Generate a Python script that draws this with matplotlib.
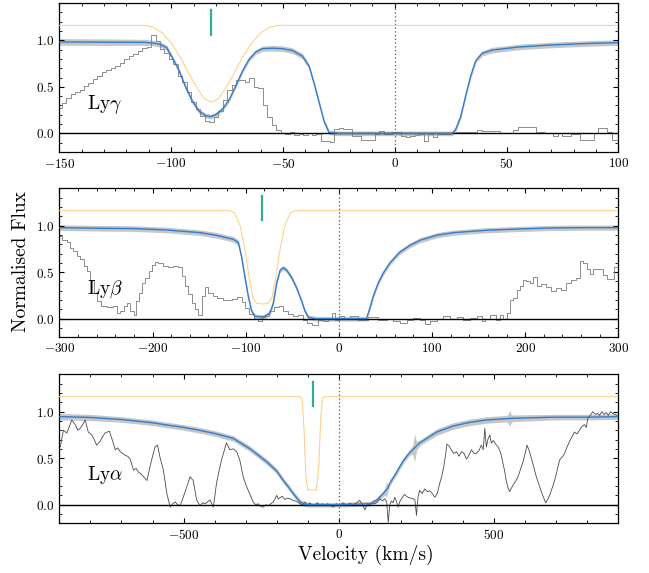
import matplotlib
matplotlib.use("Agg")
import matplotlib.pyplot as plt
from matplotlib.ticker import MultipleLocator

plt.rcParams["font.family"] = "serif"
plt.rcParams["font.serif"] = ["cmr10", "DejaVu Serif"]
plt.rcParams["mathtext.fontset"] = "cm"
plt.rcParams["axes.formatter.use_mathtext"] = True
plt.rcParams["axes.unicode_minus"] = True

# ---------------- Ly gamma ----------------
g_model_x = [-150, -130, -112, -108, -105, -102, -99.4, -96.4, -93.4, -90.5, -87.5, -84.5, -82.3, -80.1,
             -77.1, -74.1, -71.1, -68.1, -65.2, -62.2, -59.2, -54.7, -50.2, -45.8, -41.3, -38.3, -36.1,
             -33.8, -31.6, -29.4, -25, 0, 25.7, 27.2, 29.5, 31.7, 33.9, 36.2, 39.1, 43.6, 55.5, 70.4,
             85.3, 100]
g_model_y = [0.982, 0.98, 0.978, 0.97, 0.957, 0.92, 0.81, 0.67, 0.49, 0.345, 0.237, 0.19, 0.18, 0.2,
             0.26, 0.36, 0.51, 0.67, 0.795, 0.874, 0.91, 0.915, 0.91, 0.89, 0.83, 0.72, 0.54,
             0.33, 0.13, 0.01, 0.0, 0.0, 0.0, 0.04, 0.18, 0.40, 0.61, 0.78, 0.86, 0.895, 0.928, 0.95,
             0.965, 0.975]
g_err = [0.035, 0.035, 0.032, 0.03, 0.03, 0.028, 0.025, 0.025, 0.025, 0.025, 0.025, 0.025, 0.025, 0.025,
         0.025, 0.025, 0.025, 0.025, 0.025, 0.025, 0.028, 0.03, 0.03, 0.03, 0.03, 0.025, 0.025,
         0.025, 0.025, 0.025, 0.025, 0.025, 0.025, 0.025, 0.025, 0.025, 0.025, 0.025, 0.028, 0.03, 0.03, 0.03,
         0.03, 0.03]
g_comp_x = [-150, -112, -108, -104, -100, -96, -92, -88, -85, -82, -79, -76, -72, -68, -64, -60, -56, -52, 100]
g_comp_y = [1.16, 1.16, 1.14, 1.08, 0.97, 0.82, 0.64, 0.47, 0.37, 0.335, 0.37, 0.47, 0.64, 0.82, 0.97,
            1.08, 1.14, 1.16, 1.16]
g_data_x = list(range(-150, 102, 2))
g_data_y = [0.27, 0.33, 0.38, 0.42, 0.44, 0.47, 0.51, 0.54, 0.58, 0.62, 0.66, 0.68, 0.70, 0.72, 0.76,
            0.80, 0.83, 0.85, 0.88, 0.92, 0.93, 1.06, 0.99, 0.91, 0.86, 0.80, 0.74, 0.62, 0.55, 0.44,
            0.34, 0.26, 0.19, 0.13, 0.12, 0.18, 0.24, 0.36, 0.47, 0.52, 0.57, 0.57, 0.55, 0.60, 0.50,
            0.49, 0.30, 0.18, 0.09, 0.04, 0.00, -0.01, 0.01, -0.02, -0.01, -0.02, 0.00, -0.02, -0.01,
            -0.08, -0.08, -0.09, 0.05, 0.06, 0.05, 0.05, -0.03, -0.03, -0.07, -0.07, -0.07, -0.01,
            0.03, -0.01, -0.01, 0.02, 0.02, -0.03, -0.04, -0.03, -0.02, -0.01, -0.08, -0.01, -0.04,
            -0.01, -0.01, -0.01, 0.00, 0.02, 0.02, 0.02, 0.02, 0.02, 0.04, 0.03, 0.03, 0.03, 0.03,
            0.00, 0.00, 0.00, 0.04, 0.07, 0.07, 0.07, 0.07, 0.02, 0.02, 0.00, 0.00, -0.03, 0.00,
            -0.03, -0.03, -0.01, -0.01, -0.07, -0.07, -0.07, 0.00, 0.06, 0.06, 0.02, -0.07, -0.07]

# ---------------- Ly beta ----------------
b_model_x = [-300, -256, -221, -185, -149, -131.5, -113.5, -108, -104.5, -101, -97.2, -93.6, -90, -81,
             -74, -70.3, -66.7, -63.1, -59.6, -56, -50.6, -45.3, -39.9, -36.3, -32.7, -25, 0, 29.7,
             33.3, 36.9, 42.3, 47.6, 54.8, 65.5, 76.3, 87, 104.9, 122.8, 158.5, 194.3, 230, 265.8, 300]
b_model_y = [0.978, 0.971, 0.968, 0.953, 0.924, 0.896, 0.853, 0.82, 0.67, 0.457, 0.24, 0.08, 0.025, 0.018,
             0.06, 0.17, 0.385, 0.52, 0.547, 0.52, 0.44, 0.33, 0.187, 0.08, 0.015, 0.0, 0.0, 0.0,
             0.115, 0.24, 0.385, 0.49, 0.6, 0.716, 0.788, 0.842, 0.896, 0.924, 0.95, 0.964, 0.975, 0.978, 0.978]
b_err = [0.03] * 8 + [0.025] * 27 + [0.028] * 8
b_comp_x = [-300, -118, -112, -106, -102, -99.5, -96, -92, -88, -82, -76, -72, -68, -64.5, -62, -58, -52,
            -46, 300]
b_comp_y = [1.16, 1.16, 1.14, 1.0, 0.8, 0.66, 0.42, 0.22, 0.165, 0.158, 0.165, 0.22, 0.42, 0.66, 0.8, 1.0,
            1.14, 1.16, 1.16]
b_data_x = [-300, -294, -290.5, -287, -283, -279.6, -276, -272, -268.5, -265, -261, -258, -252, -245,
            -240, -236, -233, -229, -226, -222, -218.5, -216, -213, -209.5, -206, -202, -199, -195.5,
            -192, -186.5, -181, -175.6, -170, -167, -163, -160, -156, -153, -149, -145.5, -142, -138,
            -133, -127.6, -122, -117, -111.6, -106, -102.5, -99, -93.6, -88, -84.6, -81, -77.5, -72,
            -66.7, -61.4, -57.8, -52.4, -47, -41.6, -36.3, -31, -25.6, -20, -14.7, -9.3, -6.1, -2.5,
            2.9, 8.2, 15.4, 26.1, 36.9, 47.6, 54.8, 62, 69.1, 76.3, 83.4, 90.6, 94.2, 101.3, 108.5,
            115.6, 122.8, 130, 137.1, 144.3, 151.4, 155, 158.6, 165.7, 171, 174.6, 178.2, 181.8, 185.4,
            189, 192.5, 196, 198.6, 203.3, 207, 210.6, 214.2, 219.6, 225, 230.3, 235.7, 241, 246.4,
            251.7, 257, 260.6, 264.2, 267.8, 271.4, 275, 280.4, 285.7, 289.3, 294, 297.6, 300]
b_data_y = [0.89, 0.85, 0.82, 0.76, 0.73, 0.67, 0.64, 0.57, 0.51, 0.42, 0.28, 0.19, 0.14, 0.13,
            0.14, 0.06, 0.08, 0.14, 0.17, 0.08, 0.04, 0.19, 0.28, 0.385, 0.44, 0.51, 0.58, 0.61,
            0.60, 0.57, 0.56, 0.57, 0.56, 0.46, 0.35, 0.26, 0.17, 0.10, 0.04, 0.24, 0.34, 0.28,
            0.24, 0.22, 0.20, 0.20, 0.21, 0.23, 0.18, 0.115, 0.05, 0.0, -0.03, 0.02, 0.03, 0.08,
            0.13, 0.14, 0.08, 0.05, 0.025, 0.04, -0.01, -0.05, -0.065, -0.01, -0.03, 0.0, 0.06, -0.01,
            0.025, 0.01, 0.025, -0.01, 0.02, -0.01, 0.0, -0.03, -0.05, -0.01, 0.01, -0.01, -0.055, -0.03,
            0.0, 0.025, 0.0, 0.02, -0.01, 0.01, 0.025, -0.03, 0.0, 0.045, -0.01, 0.045, 0.0, 0.06, 0.2,
            0.22, 0.31, 0.35, 0.42, 0.41, 0.38, 0.45, 0.35, 0.37, 0.34, 0.295, 0.33, 0.31, 0.38,
            0.42, 0.44, 0.62, 0.6, 0.53, 0.48, 0.53, 0.53, 0.47, 0.43, 0.43, 0.56, 0.56]

# ---------------- Ly alpha ----------------
a_model_x = [-900, -800, -700, -600, -554, -500, -450, -400, -340, -286, -232, -200, -179, -160, -147,
             -135, -125, -110, -100, 0, 100, 121, 143, 148, 153, 158, 164, 186, 207, 228, 238, 244, 250,
             261, 315, 368, 422, 476, 540, 545, 550, 555, 560, 583, 690, 797, 900]
a_model_y = [0.946, 0.937, 0.915, 0.88, 0.856, 0.83, 0.80, 0.765, 0.712, 0.60, 0.46, 0.36, 0.26, 0.18,
             0.12, 0.07, 0.03, 0.005, 0.0, 0.0, 0.01, 0.047, 0.12, 0.14, 0.16, 0.18, 0.23, 0.35, 0.47,
             0.56, 0.59, 0.61, 0.63, 0.665, 0.78, 0.845, 0.885, 0.91, 0.924, 0.925, 0.926, 0.927, 0.928,
             0.93, 0.94, 0.94, 0.946]
a_err = [0.035, 0.033, 0.03, 0.03, 0.03, 0.03, 0.03, 0.03, 0.03, 0.03, 0.03, 0.03, 0.03, 0.03, 0.03,
         0.03, 0.03, 0.025, 0.025, 0.025, 0.025, 0.025, 0.03, 0.04, 0.08, 0.04, 0.03, 0.03, 0.03,
         0.03, 0.05, 0.15, 0.05, 0.03, 0.035, 0.035, 0.035, 0.035, 0.035, 0.045, 0.09, 0.045, 0.035,
         0.035, 0.03, 0.03, 0.03]
a_comp_x = [-900, -125, -118, -112, -106, -100, -85, -72, -65, -58, -52, -45, 900]
a_comp_y = [1.16, 1.16, 1.13, 0.8, 0.3, 0.16, 0.155, 0.16, 0.4, 0.95, 1.15, 1.16, 1.16]
a_data_pts = [
    (-897, 0.62), (-887, 0.80), (-876, 0.77), (-868, 0.84), (-860, 0.91), (-849, 0.86), (-841, 0.80),
    (-833, 0.82), (-825, 0.86), (-817, 0.91), (-807, 0.78), (-796, 0.75), (-788, 0.70), (-780, 0.64),
    (-769, 0.68), (-761, 0.73), (-753, 0.77), (-739, 0.79), (-731, 0.71), (-720, 0.59), (-712, 0.61),
    (-704, 0.57), (-696, 0.55), (-688, 0.53), (-680, 0.52), (-672, 0.49), (-661, 0.37), (-653, 0.39),
    (-645, 0.35), (-637, 0.33), (-629, 0.30), (-618, 0.26), (-608, 0.41), (-600, 0.52), (-592, 0.62),
    (-584, 0.64), (-576, 0.51), (-565, 0.37), (-554, 0.12), (-543, -0.025), (-535, 0.01), (-527, 0.03),
    (-519, 0.0), (-511, -0.01), (-501, 0.08), (-490, 0.19), (-479, 0.30), (-469, 0.26), (-458, 0.05),
    (-447, -0.01), (-439, 0.02), (-431, 0.01), (-423, 0.03), (-415, 0.05), (-404, -0.025), (-394, 0.23),
    (-386, 0.36), (-378, 0.48), (-370, 0.57), (-362, 0.665), (-351, 0.59), (-340, 0.60), (-329, 0.57),
    (-319, 0.48), (-308, 0.30), (-300, 0.22), (-292, 0.155), (-276, 0.03), (-268, 0.0), (-260, 0.01),
    (-251, -0.02), (-243, -0.025), (-235, 0.0), (-227, -0.01), (-219, 0.01), (-211, 0.03), (-200, 0.10),
    (-195, 0.06), (-190, 0.075), (-182, 0.09), (-174, 0.055), (-166, 0.07), (-158, 0.065), (-150, 0.05),
    (-142, 0.04), (-133, 0.03), (-125, 0.01), (-117, 0.0), (-109, 0.03), (-101, 0.0), (-93, 0.02),
    (-85, -0.01), (-77, 0.0), (-69, 0.02), (-61, -0.005), (-53, 0.01), (-45, -0.01), (-37, 0.01),
    (-29, 0.0), (-18, -0.025), (-8, 0.01), (3, -0.005), (14, 0.02), (25, -0.01), (35, 0.015), (46, 0.0),
    (57, 0.02), (67, 0.047), (76, 0.0), (84, -0.055), (92, 0.01), (100, 0.0), (108, 0.02), (116, 0.01),
    (124, 0.03), (132, 0.065), (140, 0.04), (148, 0.065), (154, 0.03), (159, -0.19), (164, 0.0),
    (169, 0.04), (175, 0.02), (180, 0.08), (186, 0.03), (191, -0.025), (196, 0.03), (202, 0.065),
    (207, 0.09), (212, 0.11), (218, 0.09), (223, 0.08), (231, 0.07), (239, 0.065), (245, 0.05),
    (250, -0.115), (255, 0.08), (260, 0.155), (268, 0.12), (277, 0.17), (285, 0.14), (293, 0.15),
    (301, 0.12), (309, 0.08), (317, 0.12), (325, 0.23), (331, 0.30), (338, 0.41), (343, 0.52),
    (348, 0.65), (355, 0.63), (362, 0.59), (370, 0.55), (379, 0.57), (387, 0.52), (395, 0.57),
    (403, 0.55), (411, 0.49), (419, 0.53), (427, 0.59), (435, 0.55), (443, 0.55), (451, 0.58),
    (459, 0.64), (465, 0.59), (470, 0.82), (475, 0.62), (480, 0.70), (486, 0.75), (491, 0.66),
    (497, 0.69), (505, 0.65), (513, 0.62), (521, 0.56), (529, 0.44), (534, 0.36), (539, 0.26),
    (545, 0.18), (550, 0.14), (556, 0.18), (561, 0.21), (569, 0.25), (577, 0.30), (585, 0.38),
    (593, 0.46), (600, 0.55), (606, 0.64), (613, 0.58), (620, 0.50), (628, 0.40), (636, 0.30),
    (644, 0.22), (652, 0.14), (659, 0.08), (666, 0.02), (673, 0.06), (679, 0.10), (687, 0.18),
    (695, 0.26), (703, 0.37), (711, 0.48), (719, 0.51), (727, 0.55), (735, 0.62), (743, 0.68),
    (751, 0.73), (759, 0.78), (767, 0.76), (775, 0.80), (783, 0.84), (791, 0.86), (797, 0.83),
    (802, 0.93), (810, 0.96), (818, 1.0), (826, 0.97), (834, 0.98), (840, 0.96), (847, 1.0),
    (854, 0.97), (861, 0.99), (868, 0.96), (875, 1.0), (882, 0.98), (889, 0.97), (896, 0.96),
]
a_data_x = [p[0] for p in a_data_pts]
a_data_y = [p[1] for p in a_data_pts]

mark_v = -82
labels = ["Ly$\\gamma$", "Ly$\\beta$", "Ly$\\alpha$"]
xlims = [(-150, 100), (-300, 300), (-900, 900)]
majors = [50, 100, 500]
minors = [10, 20, 100]

panels = [
    (g_model_x, g_model_y, g_err, g_comp_x, g_comp_y, g_data_x, g_data_y),
    (b_model_x, b_model_y, b_err, b_comp_x, b_comp_y, b_data_x, b_data_y),
    (a_model_x, a_model_y, a_err, a_comp_x, a_comp_y, a_data_x, a_data_y),
]

fig = plt.figure(figsize=(6.49, 5.73), dpi=100)
bottoms = [0.7347, 0.4113, 0.0867]

for i, (mx, my, me, cx, cy, dx, dy) in enumerate(panels):
    ax = fig.add_axes([0.0915, bottoms[i], 0.8612, 0.2600])
    lo = [m - e for m, e in zip(my, me)]
    hi = [m + e for m, e in zip(my, me)]
    ax.fill_between(mx, lo, hi, color="#c6c6c6", lw=0, zorder=1)
    if i < 2:
        ax.plot(dx, dy, drawstyle="steps-mid", color="#8c8c8c", lw=0.7, zorder=2)
    else:
        ax.plot(dx, dy, color="#4a4a4a", lw=0.6, zorder=2)
    ax.axhline(0, color="black", lw=1.0, zorder=3)
    ax.axvline(0, color="#555555", lw=0.9, ls=(0, (1, 2)), zorder=3)
    ax.plot(mx, my, color="#2f7dd0", lw=1.0, zorder=4)
    ax.plot(cx, cy, color="#fdcf88", lw=0.75, zorder=4)
    ax.plot([mark_v, mark_v], [1.06, 1.32], color="#3aa994", lw=1.6, zorder=5)

    ax.set_xlim(*xlims[i])
    ax.set_ylim(-0.2, 1.4)
    ax.xaxis.set_major_locator(MultipleLocator(majors[i]))
    ax.xaxis.set_minor_locator(MultipleLocator(minors[i]))
    ax.yaxis.set_major_locator(MultipleLocator(0.5))
    ax.yaxis.set_minor_locator(MultipleLocator(0.1))
    ax.tick_params(which="both", direction="in", top=True, right=True, labelsize=9.5)
    ax.tick_params(which="major", length=3.5, width=0.8)
    ax.tick_params(which="minor", length=2, width=0.6)
    for s in ax.spines.values():
        s.set_linewidth(0.9)
    ax.text(0.05, 0.29, labels[i], transform=ax.transAxes, fontsize=14, va="baseline")

fig.text(21 / 649, 1 - 262 / 573, "Normalised Flux", rotation=90, ha="center", va="center", fontsize=14)
fig.text(366 / 649, 1 - 555 / 573, "Velocity (km/s)", ha="center", va="center", fontsize=14)

fig.savefig("out.png", dpi=100)
